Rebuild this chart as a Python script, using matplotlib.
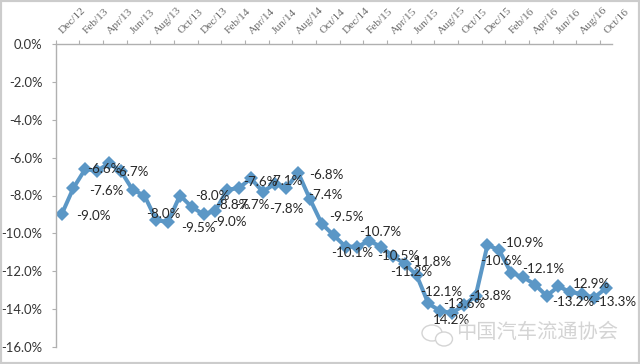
#!/usr/bin/env python3
import numpy as np
import matplotlib
matplotlib.use("Agg")
import matplotlib.pyplot as plt
from matplotlib.patches import Ellipse, Rectangle
from matplotlib.transforms import ScaledTranslation

W, H = 640, 364

values = [-9.0, -7.6, -6.6, -6.7, -6.3, -6.7, -7.7, -8.0, -9.3, -9.4, -8.0, -8.6,
          -9.0, -8.8, -7.7, -7.6, -7.1, -7.8, -7.4, -7.6, -6.8, -8.2, -9.5, -10.1,
          -10.7, -10.7, -10.4, -10.7, -11.2, -11.6, -12.2, -13.7, -14.1, -14.2, -13.8, -13.3,
          -10.6, -10.9, -12.1, -12.3, -12.7, -13.3, -12.8, -13.1, -13.2, -13.4, -12.9]

tick_labels = ["Dec/12", "Feb/13", "Apr/13", "Jun/13", "Aug/13", "Oct/13", "Dec/13", "Feb/14",
               "Apr/14", "Jun/14", "Aug/14", "Oct/14", "Dec/14", "Feb/15", "Apr/15", "Jun/15",
               "Aug/15", "Oct/15", "Dec/15", "Feb/16", "Apr/16", "Jun/16", "Aug/16", "Oct/16"]

y_ticks = [0, -2, -4, -6, -8, -10, -12, -14, -16]

label_index = [0, 1, 2, 5, 7, 9, 10, 12, 13, 14, 15, 16, 17, 18, 20, 22, 23, 25, 26, 29,
               28, 30, 31, 33, 34, 36, 37, 38, 44, 46, 45]
label_text = ["-9.0%", "-7.6%", "-6.6%", "-6.7%", "-8.0%", "-9.5%", "-8.0%", "-9.0%", "-8.8%",
              "-7.7%", "-7.6%", "-7.1%", "-7.8%", "-7.4%", "-6.8%", "-9.5%", "-10.1%", "-10.7%",
              "-10.5%", "-11.8%", "-11.2%", "-12.1%", "-13.6%", "14.2%", "-13.8%", "-10.6%",
              "-10.9%", "-12.1%", "-13.2%", "12.9%", "-13.3%"]
# offset of each label from its point, in pixels
label_offset = [(32, -2), (33, -3), (19, 0), (11, -1), (19, -18), (30, -6), (32, -1), (26, -8),
                (17, 6), (25, -15), (21, 6), (34, -3), (24, -17), (51, -11), (28, -2), (25, 7),
                (18, -18), (23, 15), (29, -15), (26, 2), (18, -16), (25, -17), (36, -1), (-1, -7),
                (26, 9), (14, -16), (23, 7), (32, 4), (-9, -8), (-14, 4), (21, -4)]

plt.rcParams["font.family"] = ["Lato", "DejaVu Sans"]

fig = plt.figure(figsize=(W / 100, H / 100), dpi=100)
ax = fig.add_axes([55.7 / W, 1 - 347 / H, 556 / W, 303 / H])

x = np.arange(len(values))
ax.plot(x, values, color="#5b97c6", linewidth=2.9, marker="D", markersize=7.4,
        markeredgewidth=0, solid_joinstyle="round")

for i, txt, off in zip(label_index, label_text, label_offset):
    ax.annotate(txt, (x[i], values[i]), xytext=off, textcoords="offset pixels",
                ha="center", va="center", fontsize=9.6, color="#262626", zorder=5)

ax.set_xlim(-0.5, len(values) - 0.5)
ax.set_ylim(-16, 0)

ax.set_yticks(y_ticks)
ax.set_yticklabels([f"{v:.1f}%" for v in y_ticks], fontsize=9.4, color="#333333")

ax.xaxis.tick_top()
ax.set_xticks(x[::2])
ax.set_xticklabels(tick_labels, rotation=45, ha="left", va="bottom", rotation_mode="anchor",
                   fontsize=8.2, family="Liberation Serif", color="#6a6a6a")
ax.set_xticks(np.arange(-0.5, len(values), 2), minor=True)
ax.tick_params(axis="x", which="major", length=0, pad=6)
ax.tick_params(axis="x", which="minor", length=3, width=0.8, color="#b0b0b0")
ax.tick_params(axis="y", length=3, width=0.8, color="#b0b0b0", pad=6.5)

# nudge the rotated month labels to the right of their points
nudge = ScaledTranslation(3 / 100, 0, fig.dpi_scale_trans)
for lab in ax.get_xticklabels():
    lab.set_transform(lab.get_transform() + nudge)

for side in ["bottom", "right"]:
    ax.spines[side].set_visible(False)
for side in ["top", "left"]:
    ax.spines[side].set_color("#b0b0b0")
    ax.spines[side].set_linewidth(1.0)

# watermark
fig.text(537 / W, 1 - 332 / H, "中国汽车流通协会", family=["Noto Sans CJK SC", "DejaVu Sans"],
         fontsize=14.6, color="#d4d4d4", ha="center", va="center")
for (cx, cy, w, h) in [(432, 333, 20, 16), (444, 339, 17, 14)]:
    fig.add_artist(Ellipse((cx, H - cy), w, h, transform=None, facecolor="white",
                           edgecolor="#d4d4d4", linewidth=1.0))

# image frame
fig.add_artist(Rectangle((0, 0), 1, 1, transform=fig.transFigure, fill=False,
                         edgecolor="#cccccc", linewidth=3))

fig.savefig("out.png", dpi=100)
